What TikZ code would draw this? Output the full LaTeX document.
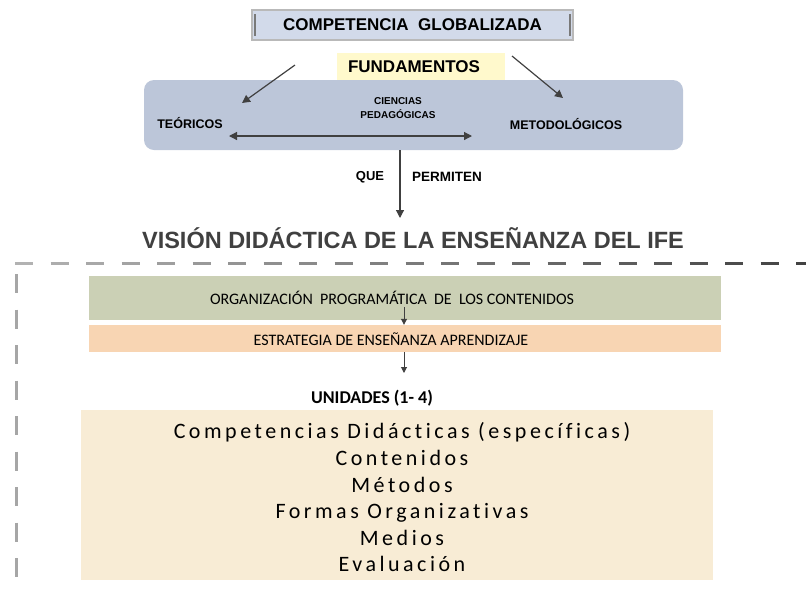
\documentclass[tikz,border=0pt]{standalone}
\usepackage{fontspec}
\setmainfont{Liberation Sans}
\newfontfamily\cali{Carlito}
\newfontfamily\calispaced[LetterSpace=16,Ligatures=NoCommon]{Carlito}
\usetikzlibrary{arrows.meta}
\definecolor{globfill}{HTML}{D2DAEA}
\definecolor{fundbox}{HTML}{BCC6D9}
\definecolor{fundyel}{HTML}{FFF9CC}
\definecolor{orgfill}{HTML}{CBD0B5}
\definecolor{estfill}{HTML}{F8D5B3}
\definecolor{unifill}{HTML}{F8ECD5}
\definecolor{ink}{HTML}{404040}
\tikzset{
  flecha/.style={draw=ink,line width=1.2pt,-{Triangle[length=8pt,width=8pt]}},
  titulo/.style={font=\bfseries\fontsize{12.5}{14}\selectfont,text=black},
  franja/.style={minimum width=632pt,inner sep=0pt},
}
\begin{document}
\begin{tikzpicture}[x=1pt,y=-1pt]
\useasboundingbox (0,0) rectangle (806,590);
% parte superior
\node[draw=gray!55,line width=2pt,fill=globfill,minimum width=321pt,minimum height=30pt,
  font=\bfseries\fontsize{17}{19}\selectfont] (glob) at (412.5,25) {COMPETENCIA\ \ GLOBALIZADA};
\draw[ink!70,line width=2.5pt] (255,14) -- (255,36);
\draw[ink!70,line width=2.5pt] (570,14) -- (570,36);
\fill[fundbox,rounded corners=10pt] (144,80) rectangle (683,150);
\node[fill=fundyel,minimum width=168pt,minimum height=27pt] (fund) at (421,66) {};
\node[font=\bfseries\fontsize{17}{19}\selectfont] (fundtxt) at (414,67) {FUNDAMENTOS};
\node[titulo] (teor) at (190,123) {TEÓRICOS};
\node[titulo] (meto) at (566,124) {METODOLÓGICOS};
\node[font=\bfseries\fontsize{10}{14.5}\selectfont,align=center] (cien) at (398,108) {CIENCIAS\\PEDAGÓGICAS};
\coordinate (a1) at (295,65);
\coordinate (a2) at (512,56);
\coordinate (t1) at (242,103);
\coordinate (t2) at (563,98);
\draw[flecha] (a1) -- (t1);
\draw[flecha] (a2) -- (t2);
\coordinate (d1) at (229,136);
\coordinate (d2) at (472,136);
\draw[flecha,{Triangle[length=8pt,width=8pt]}-{Triangle[length=8pt,width=8pt]}] (d1) -- (d2);
% que permiten
\coordinate (p1) at (400,150);
\node[font=\bfseries\fontsize{23.5}{26}\selectfont,text=ink] (vis) at (413,238) {VISIÓN DIDÁCTICA DE LA ENSEÑANZA DEL IFE};
\draw[flecha] (p1) -- (400,218);
\node[titulo,font=\bfseries\fontsize{13}{15}\selectfont] (que) at (370,177) {QUE};
\node[titulo,font=\bfseries\fontsize{13.5}{15}\selectfont] (perm) at (447,177) {PERMITEN};
% linea discontinua
\foreach \i in {0,...,22}
  \pgfmathsetmacro{\tono}{30+2*\i}
  \draw[black!\tono,line width=3pt] (15+35.5*\i,263) -- (33+35.5*\i,263);
\foreach \j in {0,...,8}
  \draw[gray!70,line width=3pt] (16,274+35.5*\j) -- (16,293+35.5*\j);
% bloques
\node[franja,fill=orgfill,minimum height=44pt] (org) at (405,298) {};
\node[font=\cali\fontsize{16}{18}\selectfont] (orgtxt) at (392,298) {ORGANIZACIÓN\ \ PROGRAMÁTICA\ \ DE\ \ LOS CONTENIDOS};
\node[franja,fill=estfill,minimum height=27pt] (est) at (405,338.5) {};
\node[font=\cali\fontsize{16}{18}\selectfont] (esttxt) at (391,339) {ESTRATEGIA DE ENSEÑANZA APRENDIZAJE};
\draw[flecha,line width=1pt,-{Triangle[length=6pt,width=6pt]}] (404,307) -- (est.north -| 404,0);
\node[font=\cali\bfseries\fontsize{18}{20}\selectfont] (uni) at (372,398) {UNIDADES (1- 4)};
\draw[flecha,line width=1pt,-{Triangle[length=6pt,width=6pt]}] (est.south -| 404,0) -- (404,373);
\node[franja,fill=unifill,minimum height=170pt] (cont) at (397,495) {};
\node[align=center,font=\calispaced\fontsize{22}{26.6}\selectfont] (conttxt) at (402,497.5)
  {Competencias Didácticas (específicas)\\Contenidos\\Métodos\\Formas Organizativas\\Medios\\Evaluación};
\end{tikzpicture}
\end{document}
